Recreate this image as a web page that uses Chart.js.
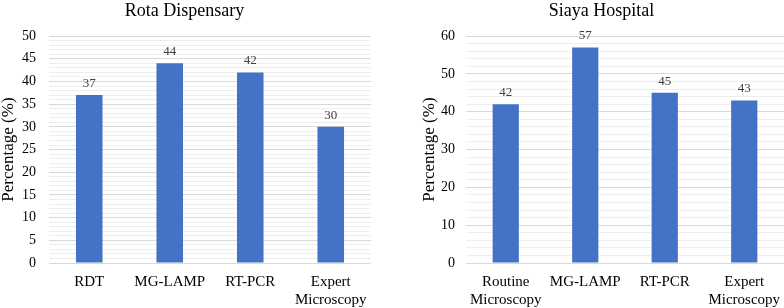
<!DOCTYPE html>
<html lang="en">
<head>
  <meta charset="UTF-8" />
  <title>Rota Dispensary / Siaya Hospital</title>
  <script src="https://cdn.jsdelivr.net/npm/chart.js"></script>
  <style>
    body { margin: 0; background: #fff; width: 784px; height: 308px; overflow: hidden; position: relative; }
    .box { position: absolute; top: 0; height: 308px; }
    #leftBox { left: -28px; width: 420px; }
    #rightBox { left: 410px; width: 374px; }
  </style>
</head>
<body>
  <div class="box" id="leftBox"><canvas id="rotaChart"></canvas></div>
  <div class="box" id="rightBox"><canvas id="siayaChart"></canvas></div>

  <script>
    // data
    const rotaLabels = ['RDT', 'MG-LAMP', 'RT-PCR', ['Expert', 'Microscopy']]
    const rotaValues = [37, 44, 42, 30]
    const siayaLabels = [['Routine', 'Microscopy'], 'MG-LAMP', 'RT-PCR', ['Expert', 'Microscopy']]
    const siayaValues = [42, 57, 45, 43]

    const serif = "'Liberation Serif', 'Times New Roman', serif"
    const barColor = '#4472C4'

    // little plugin that writes the value above each bar
    const valueLabels = {
      id: 'valueLabels',
      afterDatasetsDraw(chart) {
        const ctx = chart.ctx
        const meta = chart.getDatasetMeta(0)
        ctx.save()
        ctx.font = '13px ' + serif
        ctx.fillStyle = '#404040'
        ctx.textAlign = 'center'
        ctx.textBaseline = 'bottom'
        meta.data.forEach((bar, i) => {
          ctx.fillText(chart.data.datasets[0].data[i], bar.x, bar.y - 5)
        })
        ctx.restore()
      }
    }

    function makeChart(id, title, labels, values, max, major, minor, opts) {
      return new Chart(document.getElementById(id), {
        type: 'bar',
        data: {
          labels: labels,
          datasets: [{
            data: values,
            backgroundColor: barColor,
            barPercentage: 0.33,
            categoryPercentage: 1
          }]
        },
        options: {
          responsive: true,
          maintainAspectRatio: false,
          animation: false,
          layout: { padding: { left: opts.left, right: opts.right, top: 0, bottom: 0 } },
          plugins: {
            legend: { display: false },
            tooltip: { enabled: false },
            title: {
              display: true,
              text: title,
              color: '#000',
              font: { family: serif, size: 18, weight: 'normal' },
              padding: { top: 0, bottom: 14.5 }
            }
          },
          scales: {
            x: {
              grid: { display: false },
              border: { display: false },
              afterFit: s => { s.height = 45 },
              ticks: {
                color: '#000',
                font: { family: serif, size: 15, lineHeight: 1.2 },
                padding: 2,
                maxRotation: 0
              }
            },
            y: {
              min: 0,
              max: max,
              border: { display: false },
              afterFit: s => { s.width = opts.axisWidth },
              grid: {
                drawTicks: false,
                color: ctx => (ctx.tick && ctx.tick.value % major === 0) ? '#d9d9d9' : '#eeeeee'
              },
              ticks: {
                stepSize: minor,
                autoSkip: false,
                color: '#000',
                padding: opts.tickPad,
                font: { family: serif, size: 14 },
                callback: v => (v % major === 0 ? v : '')
              },
              title: {
                display: true,
                text: 'Percentage (%)',
                color: '#000',
                font: { family: serif, size: 17 },
                padding: { top: 0, bottom: 0 }
              }
            }
          }
        },
        plugins: [valueLabels]
      })
    }

    makeChart('rotaChart', 'Rota Dispensary', rotaLabels, rotaValues, 50, 5, 1,
      { left: 26, right: 21, axisWidth: 51, tickPad: 13 })
    makeChart('siayaChart', 'Siaya Hospital', siayaLabels, siayaValues, 60, 10, 2,
      { left: 9, right: 0, axisWidth: 47, tickPad: 11 })
  </script>
</body>
</html>
